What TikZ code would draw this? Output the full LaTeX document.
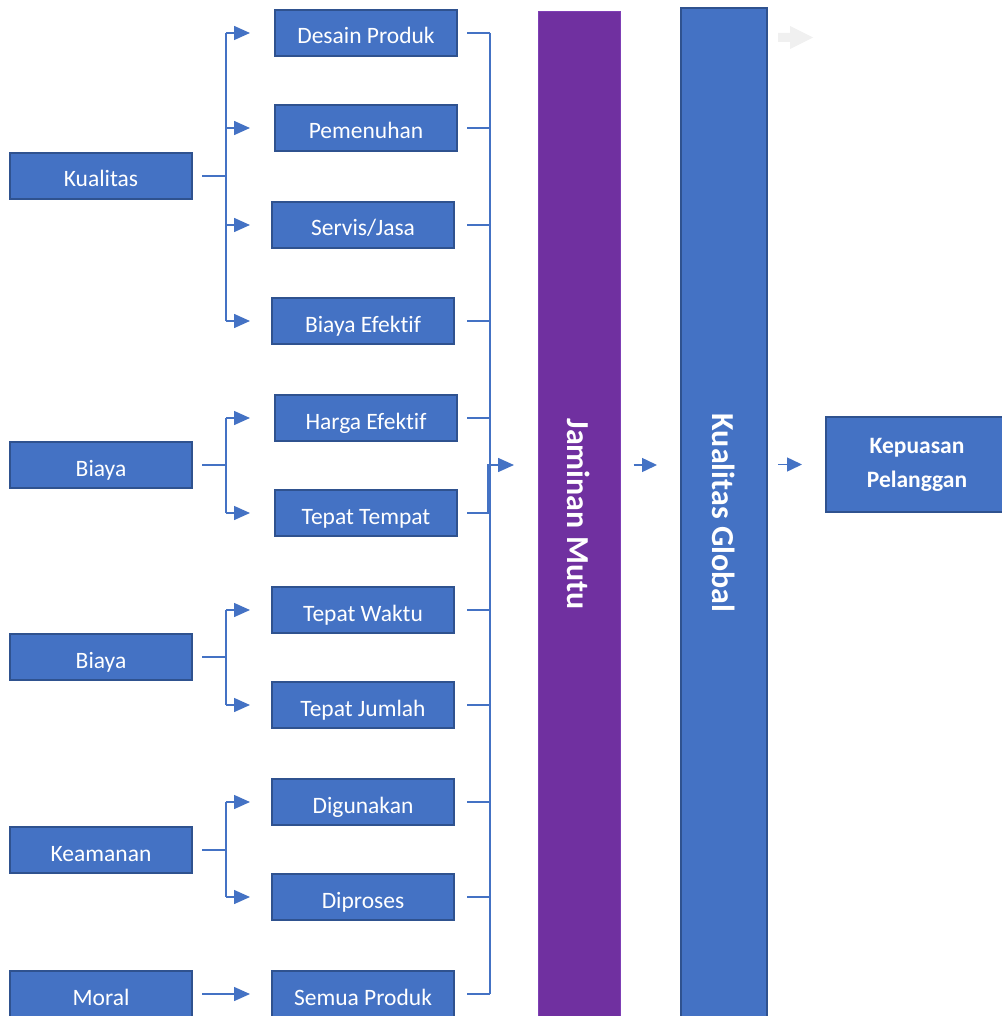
\documentclass[tikz,border=0pt]{standalone}
\usepackage{fontspec}
\setmainfont[Ligatures=NoCommon]{Carlito}
\usetikzlibrary{arrows.meta}
\definecolor{boxfill}{HTML}{4472C4}
\definecolor{boxedge}{HTML}{2F528F}
\definecolor{purplebar}{HTML}{7030A0}
\definecolor{purpleedge}{HTML}{7F3FB5}
\definecolor{ghost}{HTML}{F0F0F0}
\tikzset{
  box/.style={draw=boxedge, fill=boxfill, line width=2pt, minimum width=182pt,
    minimum height=46pt, inner sep=0pt, text=white,
    font=\fontsize{23.5}{28}\selectfont},
  cell/.style={box, text height=28pt, text depth=6pt},
  link/.style={draw=boxfill, line width=1.5pt},
  arr/.style={link, -{Triangle[length=16pt,width=14pt]}},
  smallarr/.style={link, -{Triangle[length=15pt,width=14pt]}},
}
\begin{document}
\begin{tikzpicture}[x=1pt, y=-1pt]
\useasboundingbox (0,0) rectangle (1001,1016);

% reference columns for the connectors
\coordinate (bx) at (226,0);
\coordinate (ax) at (250,0);
\coordinate (rs) at (467,0);
\coordinate (rx) at (490,0);
\coordinate (rx2) at (488,0);
\coordinate (jin) at (514,465);
\coordinate (mid) at (0,465);

% left column
\node[cell] (kual)  at (101,176) {Kualitas};
\node[cell] (bia1)  at (101,465) {Biaya};
\node[cell] (bia2)  at (101,657) {Biaya};
\node[cell] (keam)  at (101,850) {Keamanan};
\node[cell] (moral) at (101,994) {Moral};

% middle column
\node[cell] (desain)  at (366,33)  {Desain Produk};
\node[cell] (pemen)   at (366,128) {Pemenuhan};
\node[cell] (servis)  at (363,225) {Servis/Jasa};
\node[cell] (biayaef) at (363,321) {Biaya Efektif};
\node[cell] (harga)   at (366,418) {Harga Efektif};
\node[cell] (tempat)  at (366,513) {Tepat Tempat};
\node[cell] (waktu)   at (363,610) {Tepat Waktu};
\node[cell] (jumlah)  at (363,705) {Tepat Jumlah};
\node[cell] (digun)   at (363,802) {Digunakan};
\node[cell] (dipros)  at (363,897) {Diproses};
\node[cell] (semua)   at (363,994) {Semua Produk};

% tall bars
\node[draw=purpleedge, fill=purplebar, line width=1pt, minimum width=82pt,
  minimum height=1004pt, inner sep=0pt] (jm) at (579,514) {};
\node[rotate=-90, text=white, font=\bfseries\fontsize{32}{38}\selectfont]
  (jmtext) at (jm.center) {Jaminan Mutu};
\node[draw=boxedge, fill=boxfill, line width=2pt, minimum width=86pt,
  minimum height=1010pt, inner sep=0pt] (kg) at (724,513) {};
\node[rotate=-90, text=white, font=\bfseries\fontsize{32}{38}\selectfont]
  (kgtext) at (kg.center) {Kualitas Global};

% result box
\node[box, minimum height=95pt, align=center,
  font=\bfseries\fontsize{23.5}{34}\selectfont] (kep) at (917,464.5)
  {Kepuasan\\Pelanggan};

% faint block arrow
\fill[ghost] (778,33) -- (790,33) -- (790,26) -- (813,37.5) -- (790,49)
  -- (790,42) -- (778,42) -- cycle;

% branches from the left column
\draw[link] ([xshift=9pt]kual.east) -- (kual.east -| bx);
\draw[link] (desain.west -| bx) -- (biayaef.west -| bx);
\foreach \n in {desain,pemen,servis,biayaef}
  \draw[arr] (\n.west -| bx) -- (\n.west -| ax);

\draw[link] ([xshift=9pt]bia1.east) -- (bia1.east -| bx);
\draw[link] (harga.west -| bx) -- (tempat.west -| bx);
\foreach \n in {harga,tempat}
  \draw[arr] (\n.west -| bx) -- (\n.west -| ax);

\draw[link] ([xshift=9pt]bia2.east) -- (bia2.east -| bx);
\draw[link] (waktu.west -| bx) -- (jumlah.west -| bx);
\foreach \n in {waktu,jumlah}
  \draw[arr] (\n.west -| bx) -- (\n.west -| ax);

\draw[link] ([xshift=9pt]keam.east) -- (keam.east -| bx);
\draw[link] (digun.west -| bx) -- (dipros.west -| bx);
\foreach \n in {digun,dipros}
  \draw[arr] (\n.west -| bx) -- (\n.west -| ax);

\draw[arr] ([xshift=9pt]moral.east) -- (semua.west -| ax);

% bracket into Jaminan Mutu
\foreach \n in {desain,pemen,servis,biayaef,harga,waktu,jumlah,digun,dipros,semua}
  \draw[link] (\n.east -| rs) -- (\n.east -| rx);
\draw[link] (desain.east -| rx) -- (semua.east -| rx);
\draw[arr] (tempat.east -| rs) -- (tempat.east -| rx2) |- (jin);

% arrows between the bars
\draw[smallarr] ([xshift=13pt]jm.east |- mid) -- ([xshift=-23pt]kg.west |- mid);
\draw[smallarr] ([xshift=10pt]kg.east |- kep.west) -- ([xshift=-23pt]kep.west);
\end{tikzpicture}
\end{document}
